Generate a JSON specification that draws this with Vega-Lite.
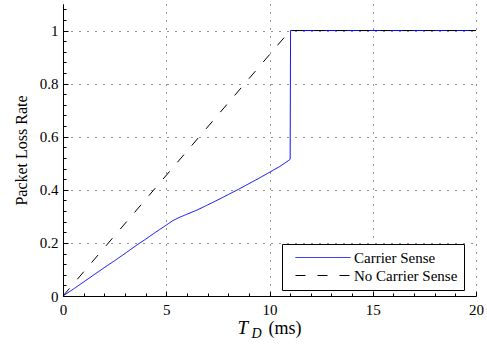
{
  "$schema": "https://vega.github.io/schema/vega-lite/v6.json",
  "width": 413,
  "height": 292,
  "autosize": "none",
  "padding": {"left": 63, "top": 4, "right": 11, "bottom": 52},
  "background": "white",
  "config": {"view": {"stroke": null}, "font": "Liberation Serif"},
  "data": {
    "values": [
      {"series": "Carrier Sense", "t": 0, "rate": 0},
      {"series": "Carrier Sense", "t": 0.5, "rate": 0.026},
      {"series": "Carrier Sense", "t": 1, "rate": 0.053},
      {"series": "Carrier Sense", "t": 1.5, "rate": 0.08},
      {"series": "Carrier Sense", "t": 2, "rate": 0.107},
      {"series": "Carrier Sense", "t": 2.5, "rate": 0.133},
      {"series": "Carrier Sense", "t": 3, "rate": 0.16},
      {"series": "Carrier Sense", "t": 3.5, "rate": 0.188},
      {"series": "Carrier Sense", "t": 4, "rate": 0.214},
      {"series": "Carrier Sense", "t": 4.5, "rate": 0.241},
      {"series": "Carrier Sense", "t": 5, "rate": 0.267},
      {"series": "Carrier Sense", "t": 5.3, "rate": 0.283},
      {"series": "Carrier Sense", "t": 5.6, "rate": 0.295},
      {"series": "Carrier Sense", "t": 6, "rate": 0.308},
      {"series": "Carrier Sense", "t": 6.5, "rate": 0.324},
      {"series": "Carrier Sense", "t": 7, "rate": 0.343},
      {"series": "Carrier Sense", "t": 7.5, "rate": 0.362},
      {"series": "Carrier Sense", "t": 8, "rate": 0.382},
      {"series": "Carrier Sense", "t": 8.5, "rate": 0.402},
      {"series": "Carrier Sense", "t": 9, "rate": 0.423},
      {"series": "Carrier Sense", "t": 9.5, "rate": 0.444},
      {"series": "Carrier Sense", "t": 10, "rate": 0.466},
      {"series": "Carrier Sense", "t": 10.5, "rate": 0.488},
      {"series": "Carrier Sense", "t": 10.9, "rate": 0.509},
      {"series": "Carrier Sense", "t": 11.0, "rate": 0.515},
      {"series": "Carrier Sense", "t": 11.02, "rate": 1.0},
      {"series": "Carrier Sense", "t": 20, "rate": 1.0},
      {"series": "No Carrier Sense", "t": 0, "rate": 0},
      {"series": "No Carrier Sense", "t": 11, "rate": 1.0},
      {"series": "No Carrier Sense", "t": 20, "rate": 1.0}
    ]
  },
  "layer": [
    {
      "mark": {"type": "line", "strokeWidth": 1, "clip": true},
      "encoding": {
        "x": {
          "field": "t", "type": "quantitative",
          "scale": {"domain": [0, 20], "nice": false, "zero": false},
          "axis": {
            "orient": "bottom",
            "values": [0,1,2,3,4,5,6,7,8,9,10,11,12,13,14,15,16,17,18,19,20],
            "labelExpr": "datum.value % 5 === 0 ? datum.label : ''",
            "labelOverlap": false,
            "labelFlush": false,
            "labelFont": "Liberation Serif",
            "labelFontSize": 15,
            "labelColor": "black",
            "labelPadding": 11,
            "tickSize": {"condition": {"test": "datum.value % 5 === 0", "value": -5}, "value": -3},
            "tickColor": "black",
            "domainColor": "black",
            "grid": true,
            "gridColor": "black",
            "gridDash": [1, 7],
            "gridOpacity": {"condition": {"test": "datum.value % 5 === 0", "value": 0.85}, "value": 0},
            "title": "T",
            "titleFont": "Liberation Serif",
            "titleFontStyle": "italic",
            "titleFontWeight": "normal",
            "titleFontSize": 19,
            "titleColor": "black",
            "titleAlign": "left",
            "titleBaseline": "alphabetic",
            "titleX": 174,
            "titleY": 37
          }
        },
        "y": {
          "field": "rate", "type": "quantitative",
          "scale": {"domain": [0, 1.1], "nice": false, "zero": false},
          "axis": {
            "values": [0,0.04,0.08,0.12,0.16,0.2,0.24,0.28,0.32,0.36,0.4,0.44,0.48,0.52,0.56,0.6,0.64,0.68,0.72,0.76,0.8,0.84,0.88,0.92,0.96,1,1.04,1.08],
            "labelExpr": "abs(datum.value*5 - round(datum.value*5)) < 0.001 ? format(datum.value, '~g') : ''",
            "labelOverlap": false,
            "labelFlush": false,
            "labelFont": "Liberation Serif",
            "labelFontSize": 15,
            "labelColor": "black",
            "labelPadding": 10,
            "tickSize": {"condition": {"test": "abs(datum.value*5 - round(datum.value*5)) < 0.001", "value": -5}, "value": -3},
            "tickColor": "black",
            "domainColor": "black",
            "grid": true,
            "gridColor": "black",
            "gridDash": [1, 7],
            "gridOpacity": {"condition": {"test": "abs(datum.value*5 - round(datum.value*5)) < 0.001", "value": 0.85}, "value": 0},
            "title": "Packet Loss Rate",
            "titleFont": "Liberation Serif",
            "titleFontWeight": "normal",
            "titleFontSize": 16,
            "titleColor": "black",
            "titlePadding": 10
          }
        },
        "color": {
          "field": "series", "type": "nominal",
          "scale": {"domain": ["Carrier Sense", "No Carrier Sense"], "range": ["#0000ff", "#000000"]},
          "legend": {
            "title": null,
            "orient": "none",
            "legendX": 219,
            "legendY": 240,
            "strokeColor": "black",
            "fillColor": "white",
            "padding": 6,
            "labelFont": "Liberation Serif",
            "labelFontSize": 15,
            "labelColor": "black",
            "symbolType": "stroke",
            "symbolSize": 100,
            "symbolStrokeWidth": 1,
            "labelOffset": 51,
            "rowPadding": 2,
            "encode": {"symbols": {"update": {
              "shape": {"value": "M0,0H11"},
              "stroke": {"signal": "datum.value === 'Carrier Sense' ? '#0000ff' : '#000000'"},
              "strokeDash": {"signal": "datum.value === 'Carrier Sense' ? [1, 0] : [10, 12]"}
            }}}
          }
        },
        "strokeDash": {
          "field": "series", "type": "nominal",
          "scale": {"domain": ["Carrier Sense", "No Carrier Sense"], "range": [[1, 0], [10, 12]]},
          "legend": null
        }
      }
    },
    {
      "mark": {"type": "rule", "opacity": 0},
      "encoding": {
        "x": {
          "field": "t", "type": "quantitative",
          "axis": {
            "orient": "bottom", "labels": false, "ticks": false, "domain": false, "grid": false,
            "title": "D",
            "titleFont": "Liberation Serif",
            "titleFontStyle": "italic",
            "titleFontWeight": "normal",
            "titleFontSize": 14,
            "titleColor": "black",
            "titleAlign": "left",
            "titleBaseline": "alphabetic",
            "titleX": 188,
            "titleY": 41
          }
        }
      }
    },
    {
      "mark": {"type": "rule", "opacity": 0},
      "encoding": {
        "x": {
          "field": "t", "type": "quantitative",
          "axis": {
            "orient": "bottom", "labels": false, "ticks": false, "domain": false, "grid": false,
            "title": "(ms)",
            "titleFont": "Liberation Serif",
            "titleFontWeight": "normal",
            "titleFontSize": 18,
            "titleColor": "black",
            "titleAlign": "left",
            "titleBaseline": "alphabetic",
            "titleX": 205,
            "titleY": 37
          }
        }
      }
    }
  ],
  "resolve": {"axis": {"x": "independent"}}
}
